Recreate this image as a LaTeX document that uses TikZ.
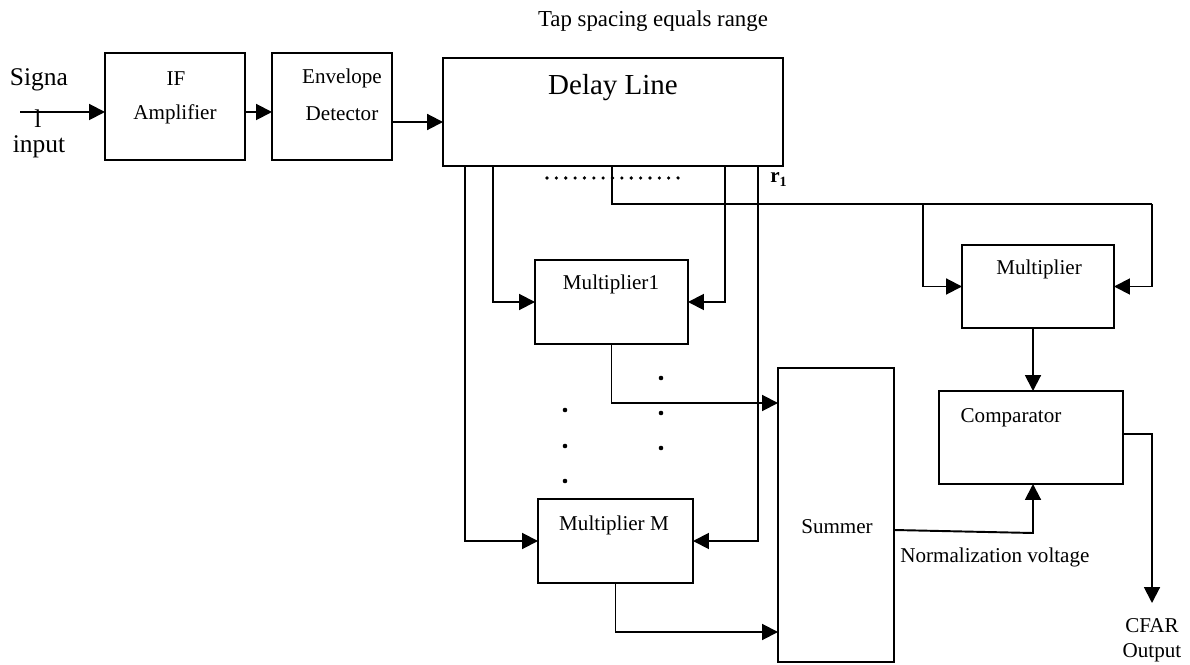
\documentclass[tikz,border=0pt]{standalone}
\usepackage{fontspec}
\setmainfont{Liberation Serif}
\usetikzlibrary{arrows.meta}
\begin{document}
\begin{tikzpicture}[x=0.02cm,y=-0.02cm,
  box/.style={draw,line width=0.8pt,inner sep=0pt,outer sep=0pt},
  conn/.style={line width=0.8pt},
  arr/.style={line width=1.1pt,-{Triangle[length=9pt,width=9pt]}},
  lbl/.style={inner sep=0pt,anchor=base,font=\fontsize{12}{14}\selectfont}]
\useasboundingbox (0,0) rectangle (1190,665);

% boxes
\node[box,minimum width=2.8cm,minimum height=2.14cm] (ifamp) at (175,106.5) {};
\node[box,minimum width=2.4cm,minimum height=2.14cm] (env) at (332,106.5) {};
\node[box,minimum width=6.8cm,minimum height=2.16cm] (delay) at (613,112) {};
\node[box,minimum width=3.06cm,minimum height=1.68cm] (mult1) at (611.5,302) {};
\node[box,minimum width=3.1cm,minimum height=1.68cm] (multM) at (615.5,541) {};
\node[box,minimum width=2.32cm,minimum height=5.88cm] (summer) at (836,515) {};
\node[box,minimum width=3.04cm,minimum height=1.66cm] (mult) at (1038,286.5) {};
\node[box,minimum width=3.68cm,minimum height=1.86cm] (comp) at (1031,437.5) {};

% texts
\node[lbl,font=\fontsize{13}{15}\selectfont] (title) at (653,27) {Tap spacing equals range};
\node[lbl,font=\fontsize{14.5}{16}\selectfont] (sig1) at (39,86) {Signa};
\node[lbl,font=\fontsize{14.5}{16}\selectfont] (sig2) at (38,128) {l};
\node[lbl,font=\fontsize{14.5}{16}\selectfont] (sig3) at (39,153) {input};
\node[lbl] (t1) at (176,86) {IF};
\node[lbl] (t2) at (175,120) {Amplifier};
\node[lbl] (t3) at (342,84) {Envelope};
\node[lbl] (t4) at (342,121) {Detector};
\node[lbl,font=\fontsize{16.5}{18}\selectfont] (t5) at (613,95) {Delay Line};
\node[lbl] (t6) at (611,290) {Multiplier1};
\node[lbl] (t7) at (614,530) {Multiplier M};
\node[lbl] (t8) at (837,533) {Summer};
\node[lbl] (t9) at (1039,275) {Multiplier};
\node[lbl] (t10) at (1011,422) {Comparator};
\node[lbl,anchor=base west] (t11) at (900,562) {Normalization voltage};
\node[lbl] (t12) at (1152,632) {CFAR};
\node[lbl] (t13) at (1152,657) {Output};
\node[lbl,anchor=base west] (r1) at (770,183) {\textbf{r}\textsubscript{\textbf{1}}};

% input chain
\coordinate (sin) at (20,112);
\coordinate (row2) at (0,122);
\draw[arr] (sin) -- (sin -| ifamp.west);
\draw[arr] (ifamp.east |- sin) -- (env.west |- sin);
\draw[arr] (env.east |- row2) -- (delay.west |- row2);

% taps
\coordinate (tapA) at (465,166);
\coordinate (tapB) at (493,166);
\coordinate (tapC) at (612,166);
\coordinate (tapD) at (725,166);
\coordinate (tapE) at (758,166);
\coordinate (jn) at (612,204);
\coordinate (bc) at (923,204);
\coordinate (rc) at (1152,204);
\draw[arr] (tapA) |- (multM.west);
\draw[arr] (tapB) |- (mult1.west);
\draw[arr] (tapD) |- (mult1.east);
\draw[arr] (tapE) |- (multM.east);
\draw[conn] (tapC) -- (jn) -- (rc);
\draw[arr] (bc) |- (mult.west);
\draw[arr] (rc) |- (mult.east);

% dotted tap indicator
\foreach \i in {0,...,14} \fill (547+\i*9.36,178) circle (1.8);

% multiplier outputs to summer
\coordinate (s1) at (700,403);
\coordinate (s2) at (700,632);
\draw[arr] (mult1.south) |- (summer.west |- s1);
\draw[arr] (multM.south) |- (summer.west |- s2);

% dots between multipliers
\foreach \y in {410,446,481} \fill (565,\y) circle (2.3);
\foreach \y in {378,413,448} \fill (661,\y) circle (2.3);

% multiplier to comparator
\coordinate (cx) at (1033,0);
\draw[arr] (mult.south -| cx) -- (comp.north -| cx);

% summer to comparator
\coordinate (so) at (894,530);
\coordinate (nv) at (1033,533);
\draw[arr] (summer.east |- so) -- (nv) -- (comp.south -| cx);

% comparator output
\coordinate (co) at (1152,434);
\coordinate (cend) at (1152,603);
\draw[arr] (comp.east |- co) -- (co) -- (cend);
\end{tikzpicture}
\end{document}
